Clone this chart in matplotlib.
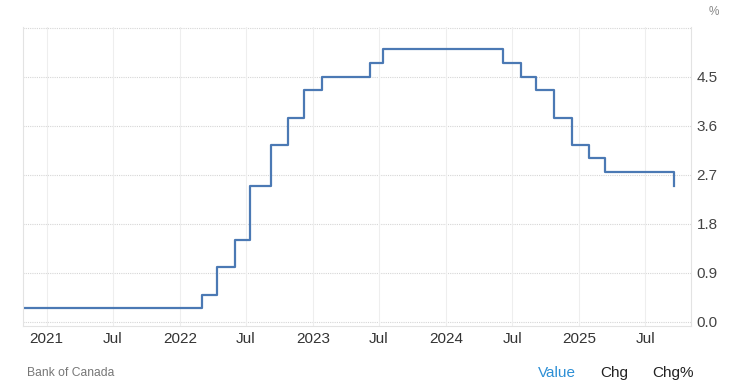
import matplotlib
matplotlib.use("Agg")
import matplotlib.pyplot as plt
import pandas as pd

# Bank of Canada overnight rate decisions (step series)
dates = ["2020-10-27", "2022-03-02", "2022-04-13", "2022-06-01", "2022-07-13",
         "2022-09-07", "2022-10-26", "2022-12-07", "2023-01-25", "2023-06-07",
         "2023-07-12", "2024-06-05", "2024-07-24", "2024-09-04", "2024-10-23",
         "2024-12-11", "2025-01-29", "2025-03-12", "2025-09-17"]
rates = [0.25, 0.5, 1.0, 1.5, 2.5,
         3.25, 3.75, 4.25, 4.5, 4.75,
         5.0, 4.75, 4.5, 4.25, 3.75,
         3.25, 3.0, 2.75, 2.5]

y_ticks = [0.0, 0.9, 1.8, 2.7, 3.6, 4.5]
x_tick_dates = ["2021-01-01", "2021-07-01", "2022-01-01", "2022-07-01", "2023-01-01",
                "2023-07-01", "2024-01-01", "2024-07-01", "2025-01-01", "2025-07-01"]
x_tick_labels = ["2021", "Jul", "2022", "Jul", "2023", "Jul", "2024", "Jul", "2025", "Jul"]

plt.rcParams['font.family'] = ['Liberation Sans', 'DejaVu Sans']

x = pd.to_datetime(dates)
fig = plt.figure(figsize=(7.29, 3.85), dpi=100)
ax = fig.add_axes([0.0311, 0.153, 0.917, 0.778])

ax.step(x, rates, where="post", color="#4b79b4", linewidth=1.6)

ax.set_xlim(pd.Timestamp("2020-10-27"), pd.Timestamp("2025-11-04"))
ax.set_ylim(-0.08, 5.42)

# gridlines
for v in y_ticks + [5.4]:
    ax.axhline(v, color="#d6d6d6", linewidth=0.8, linestyle=(0, (1, 1)), zorder=0)
for d in x_tick_dates:
    ax.axvline(pd.Timestamp(d), color="#eeeeee", linewidth=0.8, zorder=0)

ax.set_xticks(pd.to_datetime(x_tick_dates))
ax.set_xticklabels(x_tick_labels)
ax.set_yticks(y_ticks)
ax.set_yticklabels([f"{v:.1f}" for v in y_ticks])
ax.yaxis.tick_right()
ax.tick_params(axis="both", length=0, labelsize=11, colors="#333333")
ax.tick_params(axis="x", pad=4)
ax.tick_params(axis="y", pad=4, labelcolor="#444444")

ax.spines["top"].set_visible(False)
for s in ["left", "right", "bottom"]:
    ax.spines[s].set_color("#e3e3e3")
    ax.spines[s].set_linewidth(0.8)

fig.text(0.979, 0.968, "%", fontsize=8.5, color="#888888", ha="center", va="center")
fig.text(0.037, 0.030, "Bank of Canada", fontsize=8.7, color="#777777", ha="left", va="center")
fig.text(0.764, 0.030, "Value", fontsize=11, color="#2d8fd5", ha="center", va="center")
fig.text(0.843, 0.030, "Chg", fontsize=11, color="#222222", ha="center", va="center")
fig.text(0.923, 0.030, "Chg%", fontsize=11, color="#222222", ha="center", va="center")

fig.savefig("out.png", dpi=100)
